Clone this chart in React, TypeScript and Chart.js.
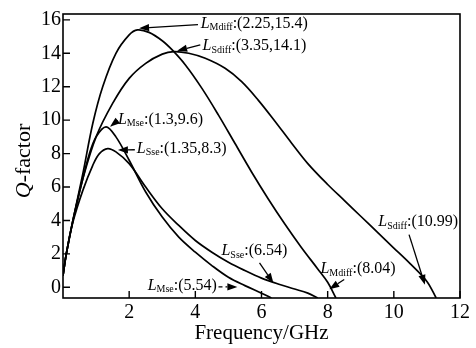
import React, { useEffect, useRef } from "react";
import { Chart, registerables } from "chart.js";

Chart.register(...registerables);

// ---- data ----
const FREQ_MDIFF = [0, 0.1, 0.3, 0.6, 0.9, 1.2, 1.6, 2.0, 2.25, 2.6, 3.0, 3.3, 3.7, 4.2, 4.7, 5.2, 5.7, 6.2, 6.7, 7.2, 7.7, 8.0, 8.25];
const Q_MDIFF = [0.7, 2.0, 4.0, 6.8, 9.8, 12.0, 14.0, 15.1, 15.4, 15.25, 14.75, 14.2, 13.3, 11.9, 10.3, 8.6, 6.9, 5.3, 3.8, 2.4, 1.1, 0.3, -0.64];

const FREQ_SDIFF = [0, 0.1, 0.3, 0.6, 1.0, 1.5, 2.0, 2.5, 3.0, 3.35, 3.8, 4.3, 4.9, 5.4, 5.9, 6.4, 6.9, 7.4, 8.0, 8.5, 9.0, 9.5, 10.0, 10.5, 11.0, 11.28];
const Q_SDIFF = [0.7, 2.0, 4.0, 6.5, 9.0, 11.0, 12.5, 13.4, 13.95, 14.1, 14.0, 13.7, 13.1, 12.3, 11.2, 9.95, 8.65, 7.4, 6.15, 5.2, 4.25, 3.3, 2.35, 1.4, 0.35, -0.64];

const FREQ_MSE = [0, 0.1, 0.3, 0.6, 0.8, 1.0, 1.3, 1.6, 2.0, 2.5, 3.0, 3.5, 4.0, 4.5, 5.0, 5.5, 6.0, 6.3];
const Q_MSE = [0.7, 2.0, 4.0, 6.5, 8.0, 9.0, 9.6, 9.0, 7.6, 5.7, 4.2, 3.0, 2.1, 1.3, 0.6, 0.1, -0.35, -0.64];

const FREQ_SSE = [0, 0.1, 0.3, 0.6, 0.9, 1.1, 1.35, 1.6, 2.0, 2.5, 3.0, 3.5, 4.0, 4.5, 5.0, 5.5, 6.0, 6.5, 7.0, 7.4, 7.7];
const Q_SSE = [0.7, 2.0, 3.9, 5.8, 7.3, 8.0, 8.3, 8.1, 7.4, 6.0, 4.7, 3.7, 2.8, 2.1, 1.5, 1.0, 0.55, 0.2, -0.1, -0.35, -0.64];

const X_TICKS = [2, 4, 6, 8, 10, 12];
const Y_TICKS = [0, 2, 4, 6, 8, 10, 12, 14, 16];

const X_TITLE = "Frequency/GHz";
const Y_TITLE_ITALIC = "Q";
const Y_TITLE_REST = "-factor";

// annotation: subscript, rest of text, text anchor (data), arrow tail (data), arrow tip (data)
const ANNOTATIONS = [
  { sub: "Mdiff", rest: ":(2.25,15.4)", tx: 4.16, ty: 15.77, fx: 4.08, fy: 15.72, ax: 2.3, ay: 15.5, dashed: false },
  { sub: "Sdiff", rest: ":(3.35,14.1)", tx: 4.22, ty: 14.42, fx: 4.15, fy: 14.5, ax: 3.45, ay: 14.15, dashed: false },
  { sub: "Mse", rest: ":(1.3,9.6)", tx: 1.66, ty: 10.04, fx: 1.64, fy: 9.95, ax: 1.42, ay: 9.6, dashed: false },
  { sub: "Sse", rest: ":(1.35,8.3)", tx: 2.23, ty: 8.29, fx: 2.17, fy: 8.23, ax: 1.66, ay: 8.22, dashed: false },
  { sub: "Sse", rest: ":(6.54)", tx: 4.79, ty: 2.16, fx: 5.94, fy: 1.46, ax: 6.36, ay: 0.25, dashed: false },
  { sub: "Mse", rest: ":(5.54)", tx: 2.56, ty: 0.1, fx: 4.7, fy: 0.02, ax: 5.27, ay: 0.02, dashed: true },
  { sub: "Mdiff", rest: ":(8.04)", tx: 7.78, ty: 1.1, fx: 8.5, fy: 0.47, ax: 8.05, ay: -0.12, dashed: false },
  { sub: "Sdiff", rest: ":(10.99)", tx: 9.53, ty: 3.91, fx: 10.46, fy: 3.15, ax: 10.94, ay: 0.15, dashed: false },
];

const SERIF = "'Liberation Serif', 'Times New Roman', serif";

function toPoints(xs: number[], ys: number[]) {
  return xs.map((x, i) => ({ x, y: ys[i] }));
}

const decorPlugin = {
  id: "decor",
  afterDraw(chart: any) {
    const { ctx, chartArea, scales } = chart;
    const xs = scales.x;
    const ys = scales.y;
    ctx.save();
    // frame
    ctx.strokeStyle = "#000";
    ctx.lineWidth = 1.6;
    ctx.strokeRect(chartArea.left, chartArea.top, chartArea.right - chartArea.left, chartArea.bottom - chartArea.top);
    // inner ticks
    ctx.lineWidth = 1.4;
    ctx.beginPath();
    Y_TICKS.forEach((v) => {
      const py = ys.getPixelForValue(v);
      ctx.moveTo(chartArea.left, py);
      ctx.lineTo(chartArea.left + 7, py);
    });
    X_TICKS.forEach((v) => {
      const px = xs.getPixelForValue(v);
      ctx.moveTo(px, chartArea.bottom);
      ctx.lineTo(px, chartArea.bottom - 7);
    });
    ctx.stroke();

    // x title
    ctx.fillStyle = "#000";
    ctx.font = `21px ${SERIF}`;
    ctx.textAlign = "center";
    ctx.textBaseline = "middle";
    ctx.fillText(X_TITLE, (chartArea.left + chartArea.right) / 2, 333);

    // y title
    ctx.save();
    ctx.translate(24, 161);
    ctx.rotate(-Math.PI / 2);
    ctx.textAlign = "left";
    ctx.font = `italic 22px ${SERIF}`;
    const wq = ctx.measureText(Y_TITLE_ITALIC).width;
    ctx.font = `22px ${SERIF}`;
    const wr = ctx.measureText(Y_TITLE_REST).width;
    const start = -(wq + wr) / 2;
    ctx.font = `italic 22px ${SERIF}`;
    ctx.fillText(Y_TITLE_ITALIC, start, 0);
    ctx.font = `22px ${SERIF}`;
    ctx.fillText(Y_TITLE_REST, start + wq, 0);
    ctx.restore();

    // annotations
    ANNOTATIONS.forEach((a) => {
      const px = xs.getPixelForValue(a.tx);
      const py = ys.getPixelForValue(a.ty);
      ctx.textAlign = "left";
      ctx.textBaseline = "middle";
      ctx.font = `italic 16px ${SERIF}`;
      ctx.fillText("L", px, py);
      let cx = px + ctx.measureText("L").width;
      ctx.font = `10px ${SERIF}`;
      ctx.fillText(a.sub, cx, py + 4);
      cx += ctx.measureText(a.sub).width;
      ctx.font = `16px ${SERIF}`;
      ctx.fillText(a.rest, cx, py);

      // arrow
      const x1 = xs.getPixelForValue(a.fx);
      const y1 = ys.getPixelForValue(a.fy);
      const x2 = xs.getPixelForValue(a.ax);
      const y2 = ys.getPixelForValue(a.ay);
      const ang = Math.atan2(y2 - y1, x2 - x1);
      const hl = 10;
      const hw = 3.6;
      const bx = x2 - hl * Math.cos(ang);
      const by = y2 - hl * Math.sin(ang);
      ctx.lineWidth = 1.3;
      ctx.setLineDash(a.dashed ? [4, 3] : []);
      ctx.beginPath();
      ctx.moveTo(x1, y1);
      ctx.lineTo(bx, by);
      ctx.stroke();
      ctx.setLineDash([]);
      ctx.beginPath();
      ctx.moveTo(x2, y2);
      ctx.lineTo(bx + hw * Math.sin(ang), by - hw * Math.cos(ang));
      ctx.lineTo(bx - hw * Math.sin(ang), by + hw * Math.cos(ang));
      ctx.closePath();
      ctx.fill();
    });
    ctx.restore();
  },
};

export default function App() {
  const ref = useRef<HTMLCanvasElement | null>(null);
  useEffect(() => {
    if (!ref.current) return;
    const lineStyle = {
      borderColor: "#000",
      borderWidth: 1.7,
      pointRadius: 0,
      fill: false,
      tension: 0.35,
    };
    const chart = new Chart(ref.current, {
      type: "line",
      data: {
        datasets: [
          { label: "LMdiff", data: toPoints(FREQ_MDIFF, Q_MDIFF), ...lineStyle },
          { label: "LSdiff", data: toPoints(FREQ_SDIFF, Q_SDIFF), ...lineStyle },
          { label: "LMse", data: toPoints(FREQ_MSE, Q_MSE), ...lineStyle },
          { label: "LSse", data: toPoints(FREQ_SSE, Q_SSE), ...lineStyle },
        ],
      },
      options: {
        animation: false,
        responsive: false,
        maintainAspectRatio: false,
        layout: { padding: { top: 7, right: 16, left: 0, bottom: 0 } },
        plugins: { legend: { display: false }, tooltip: { enabled: false } },
        scales: {
          x: {
            type: "linear",
            min: 0,
            max: 12,
            afterBuildTicks: (s: any) => {
              s.ticks = X_TICKS.map((v) => ({ value: v }));
            },
            afterFit: (s: any) => {
              s.height = 50;
            },
            grid: { display: false, drawTicks: false },
            border: { display: false },
            ticks: {
              color: "#000",
              font: { family: SERIF, size: 20 },
              padding: 3,
              maxRotation: 0,
              autoSkip: false,
            },
          },
          y: {
            type: "linear",
            min: -0.64,
            max: 16.35,
            afterBuildTicks: (s: any) => {
              s.ticks = Y_TICKS.map((v) => ({ value: v }));
            },
            afterFit: (s: any) => {
              s.width = 63;
            },
            grid: { display: false, drawTicks: false },
            border: { display: false },
            ticks: {
              color: "#000",
              font: { family: SERIF, size: 20 },
              padding: 2,
              autoSkip: false,
            },
          },
        },
      },
      plugins: [decorPlugin],
    });
    return () => chart.destroy();
  }, []);
  return (
    <div style={{ position: "fixed", left: 0, top: 0, width: 476, height: 348, background: "#fff" }}>
      <canvas ref={ref} width={476} height={348} style={{ width: 476, height: 348 }} />
    </div>
  );
}
